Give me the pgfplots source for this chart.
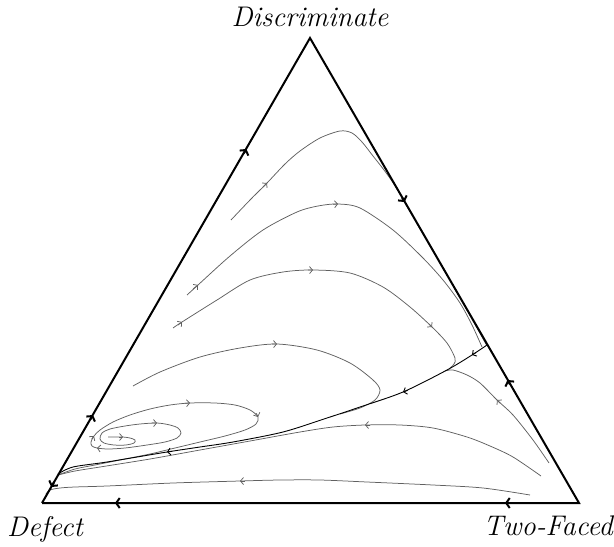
\documentclass[border=0pt]{standalone}
\usepackage{pgfplots}
\pgfplotsset{compat=1.18}
\usetikzlibrary{arrows.meta}

\tikzset{
  traj/.style={gray!75!black, line width=0.75bp, smooth},
  tip/.style={gray!75!black, line width=0.75bp, -{Straight Barb[length=3bp,width=7bp]}},
  etip/.style={black, line width=2bp, -{Straight Barb[length=3.5bp,width=10bp]}},
}

\begin{document}
\begin{tikzpicture}
\begin{axis}[
  width=614bp, height=547bp, scale only axis,
  xmin=0, xmax=614, ymin=0, ymax=547, y dir=reverse,
  hide axis, clip=false,
]
% trajectories (pixel-like coordinates, y downwards)
\addplot[traj] coordinates {
  (231,220)(250,200)(267,183)(285,164)(300,151)(320,138)(340,131)(352,133)
  (362,142)(373,156)(384,170)(396,187)(407.5,207)(432.4,250)(462.4,302)(486.5,345)};
\addplot[traj] coordinates {
  (187,295)(198,285)(230,256)(263,230)(297,212)(318,206)(338,204)(360,208)
  (393,230)(422,257)(443,280)(460,303)(472,325)(482,347)};
\addplot[traj] coordinates {
  (173,328)(182,322)(217,300)(250,280)(283,272)(313,270)(350,273)(383,287)
  (410,307)(432,327)(447,343)(455,358)(454,364)(449,369)};
\addplot[traj] coordinates {
  (133,386)(160,372)(200,357)(240,348)(277,344)(317,350)(350,363)(373,380)
  (380,390)(375,400)(360,408)(340,414)};
\addplot[traj] coordinates {
  (108,437)(116,437)(123,437)(130,438)(135,440)(134,443)(126,445)(114,445)
  (104,443)(100,439)(102,433)(110,429)(125,426)(140,424)(157,423)(170,425)
  (178,428)(181,433)(177,438)(165,442)(147,445)(125,448)(108,449)(97,448)
  (92,446)(91,442)(94,436)(100,430)(113,422)(130,415)(150,409)(170,405)
  (190,403)(215,403)(235,405)(250,410)(258,417)(256,424)(245,430)(225,436)
  (200,442)(175,448)(150,454)(120,460)(95,465)(75,469)(58,475)};
\addplot[traj] coordinates {
  (549,463)(533,440)(513,415)(497,400)(480,383)(467,375)(453,370)(445,371)};
\addplot[traj] coordinates {
  (541,476)(513,457)(490,446)(467,437)(433,428)(400,425)(365,425)(333,427)
  (300,432)(250,441)(200,450)(150,459)(100,467)(75,471)(58,475)};
\addplot[traj] coordinates {
  (530,495)(483,488)(433,485)(367,482)(320,480)(280,480)(240,481)(173,483)
  (107,486)(75,487)(60,488)(50,490)(46,494)};
% arrowheads on the trajectories
\addplot[tip] coordinates {(263,187)(267,183)};
\addplot[tip] coordinates {(193,289)(198,285)};
\addplot[tip] coordinates {(333,204.3)(338,204)};
\addplot[tip] coordinates {(178,325)(182,322)};
\addplot[tip] coordinates {(308,270.1)(313,270)};
\addplot[tip] coordinates {(429,324)(432,327)};
\addplot[tip] coordinates {(272,344.1)(277,344)};
\addplot[tip] coordinates {(119,437)(123,437)};
\addplot[tip] coordinates {(152,423.1)(157,423)};
\addplot[tip] coordinates {(101,448.5)(97,448)};
\addplot[tip] coordinates {(91.6,439.2)(94,436)};
\addplot[tip] coordinates {(185,403.2)(190,403)};
\addplot[tip] coordinates {(256.4,413.3)(258,417)};
\addplot[tip] coordinates {(500,403)(497,400)};
\addplot[tip] coordinates {(370,425)(365,425)};
\addplot[tip] coordinates {(245,481)(240,481)};
% separatrix
\addplot[black, line width=0.9bp, smooth] coordinates {
  (487,345)(472,355)(447,370)(403,392)(360,407)(327,418)(283,432)(233,442)
  (200,447)(167,452)(107,462)(73,467)(58,474)};
\addplot[tip, black, line width=0.9bp] coordinates {(476,352.5)(472,355)};
\addplot[tip, black, line width=0.9bp] coordinates {(407.7,390.4)(403,392)};
\addplot[tip, black, line width=0.9bp] coordinates {(172,451.3)(167,452)};
% edges of the simplex
\addplot[black, line width=2bp] coordinates {(42,503)(310,38)(579,503)(42,503)};
\addplot[etip] coordinates {(90.5,419.3)(93,415)};
\addplot[etip] coordinates {(243.9,153.3)(246.4,149)};
\addplot[etip] coordinates {(53.7,482.7)(51.2,487)};
\addplot[etip] coordinates {(402.2,197.7)(404.7,202)};
\addplot[etip] coordinates {(509.9,384.3)(507.4,380)};
\addplot[etip] coordinates {(510,503)(505,503)};
\addplot[etip] coordinates {(120,503)(115,503)};
% vertex labels
\node[anchor=base, font=\fontsize{28.5}{32}\selectfont\itshape] at (axis cs:310,27) {Discriminate};
\node[anchor=base west, inner sep=0pt, font=\fontsize{28.5}{32}\selectfont\itshape] at (axis cs:7,536) {Defect};
\node[anchor=base east, inner sep=0pt, font=\fontsize{28.5}{32}\selectfont\itshape] at (axis cs:613,535) {Two-Faced};
\path (axis cs:0,0) rectangle (axis cs:614,547);
\end{axis}
\end{tikzpicture}
\end{document}
